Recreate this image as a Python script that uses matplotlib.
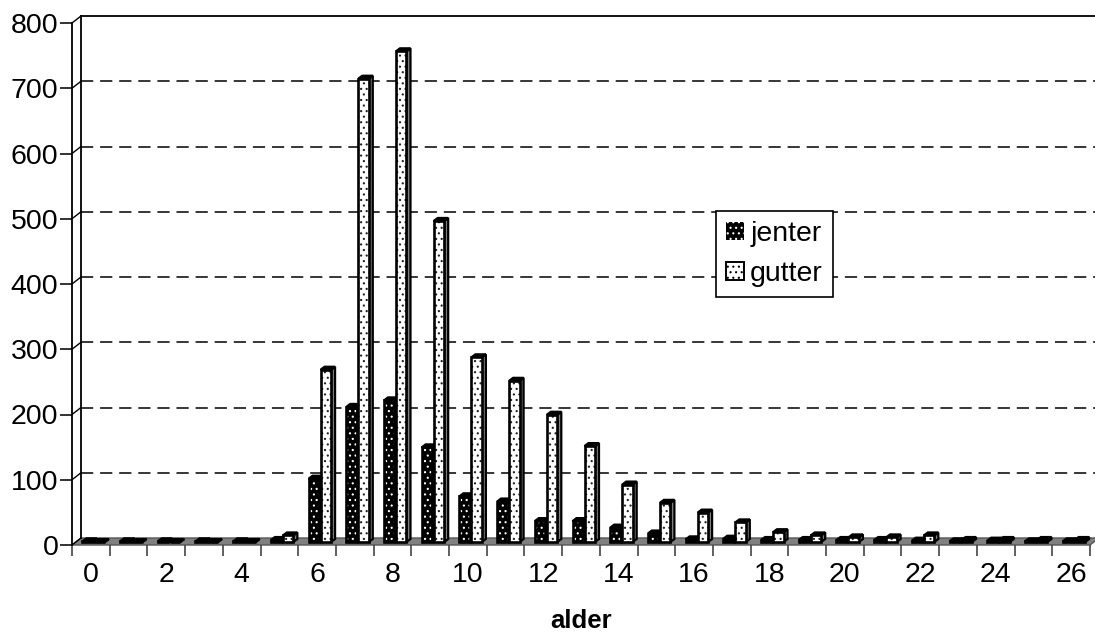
import matplotlib
matplotlib.use("Agg")
import matplotlib.pyplot as plt
import matplotlib.transforms as mtransforms
from matplotlib.patches import Patch, Rectangle
import numpy as np

plt.rcParams['font.family'] = ['Liberation Sans', 'DejaVu Sans']
plt.rcParams['hatch.linewidth'] = 0.8

ages = list(range(27))
jenter = [1, 1, 1, 1, 1, 3, 97, 207, 217, 145, 70, 62, 32, 32, 22, 13, 4, 5, 3, 3, 3, 3, 2, 1, 2, 1, 1]
gutter = [0, 0, 0, 0, 0, 10, 264, 710, 752, 492, 283, 247, 195, 147, 88, 60, 45, 30, 15, 10, 7, 7, 10, 3, 3, 3, 3]
x_labels = [str(a) for a in ages[::2]]
y_ticks = [0, 100, 200, 300, 400, 500, 600, 700, 800]

W, H = 1095, 632
fig = plt.figure(figsize=(W / 100, H / 100), dpi=100)
left, right, top, bottom = 72, 1090, 23, 545
ax = fig.add_axes([left / W, 1 - bottom / H, (right - left) / W, (bottom - top) / H])
ax.set_xlim(-0.5, 26.5)
ax.set_ylim(0, 800)

px_x = (26.5 + 0.5) / (right - left)
px_y = 800 / (bottom - top)

mid = mtransforms.offset_copy(ax.transData, fig, x=0, y=3, units='dots')

# walls and floor
ax.fill([-0.5, 26.5, 26.5 + 9 * px_x, -0.5 + 9 * px_x], [0, 0, 7 * px_y, 7 * px_y],
        facecolor='#808080', edgecolor='#555555', lw=1, zorder=1, clip_on=False)
ax.plot([-0.5 + 9 * px_x] * 2, [7 * px_y, 800 + 7 * px_y], color='black', lw=1.3, zorder=2, clip_on=False)
ax.plot([-0.5 + 9 * px_x, 27.5], [800 + 7 * px_y] * 2, color='black', lw=1.3, zorder=2, clip_on=False)
for v in y_ticks[1:-1]:
    ax.plot([-0.5 + 9 * px_x, 27.5], [v + 7 * px_y] * 2, color='black', lw=1.1,
            dashes=(8, 4.5), zorder=2, clip_on=False)
for v in y_ticks:
    ax.plot([-0.5, -0.5 + 9 * px_x], [v, v + 7 * px_y], color='black', lw=1, zorder=2, clip_on=False)

w = 10.5 * px_x
dx, dy = 4 * px_x, 3 * px_y


def bar3d(x, v, face, hatch, hatch_col, side, z):
    ax.fill([x + w, x + w + dx, x + w + dx, x + w], [0, dy, v + dy, v],
            facecolor=side, edgecolor='black', lw=1.6, transform=mid, zorder=z, clip_on=False)
    ax.fill([x, x + dx, x + w + dx, x + w], [v, v + dy, v + dy, v],
            facecolor='black', edgecolor='black', lw=1.6, transform=mid, zorder=z, clip_on=False)
    ax.add_patch(Rectangle((x, 0), w, v, facecolor=face, edgecolor=hatch_col, hatch=hatch,
                           lw=0, transform=mid, zorder=z, clip_on=False))
    ax.add_patch(Rectangle((x, 0), w, v, facecolor='none', edgecolor='black',
                           lw=1.9, transform=mid, zorder=z, clip_on=False))


for i, a in enumerate(ages):
    bar3d(a - 8.5 * px_x, jenter[i], 'black', '...', 'white', 'black', 3 + i * 0.01)
    bar3d(a + 3.5 * px_x, gutter[i], 'white', '...', '#222222', '#808080', 3.005 + i * 0.01)

for s in ('top', 'right'):
    ax.spines[s].set_visible(False)
ax.spines['left'].set_linewidth(1.3)
ax.spines['bottom'].set_visible(False)
ax.patch.set_alpha(0)

ax.set_yticks(y_ticks)
ax.tick_params(axis='y', length=9, width=1.3, labelsize=20.5, pad=0.8, color='#222222')
ax.set_xticks(np.arange(-0.5, 27, 1))
ax.set_xticklabels([])
ax.tick_params(axis='x', which='major', length=8, width=1.2, color='#444444')
ax.set_xticks(ages[::2], minor=True)
ax.set_xticklabels(x_labels, minor=True, fontsize=20.5)
ax.tick_params(axis='x', which='minor', length=0, pad=12)
ax.set_xlabel('alder', fontsize=18.5, fontweight='bold', labelpad=15)

handles = [Patch(facecolor='black', edgecolor='white', hatch='...', lw=0),
           Patch(facecolor='white', edgecolor='black', hatch='...', lw=1.4)]
leg = ax.legend(handles, ['jenter', 'gutter'], fontsize=20.5, frameon=True, framealpha=1,
                fancybox=False, edgecolor='black', loc='upper left',
                bbox_to_anchor=(716 / W, 1 - 211 / H), bbox_transform=fig.transFigure,
                borderaxespad=0, handlelength=0.62, handleheight=0.62, handletextpad=0.22,
                labelspacing=0.48, borderpad=0.36)
leg.get_frame().set_linewidth(1.2)
leg.set_zorder(10)

fig.savefig('out.png', dpi=100)
